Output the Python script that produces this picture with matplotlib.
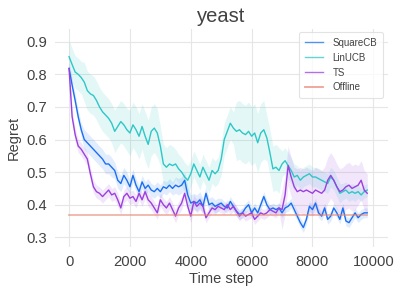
import matplotlib
matplotlib.use("Agg")
import matplotlib.pyplot as plt
import numpy as np

# time grid (every 100 steps)
T = list(range(0, 9900, 100))

SQUARECB = [0.818, 0.767, 0.72, 0.67, 0.63, 0.60, 0.59, 0.58, 0.57, 0.56,
            0.55, 0.54, 0.525, 0.525, 0.515, 0.505, 0.475, 0.465, 0.49, 0.475,
            0.455, 0.49, 0.46, 0.44, 0.47, 0.45, 0.46, 0.445, 0.44, 0.45,
            0.44, 0.455, 0.45, 0.46, 0.45, 0.46, 0.455, 0.46, 0.475, 0.43,
            0.405, 0.41, 0.405, 0.415, 0.395, 0.435, 0.40, 0.405, 0.395, 0.40,
            0.405, 0.395, 0.39, 0.41, 0.395, 0.38, 0.37, 0.375, 0.39, 0.40,
            0.375, 0.39, 0.375, 0.40, 0.425, 0.40, 0.385, 0.39, 0.385, 0.39,
            0.375, 0.39, 0.395, 0.405, 0.385, 0.365, 0.345, 0.33, 0.355, 0.395,
            0.385, 0.405, 0.375, 0.365, 0.39, 0.355, 0.365, 0.39, 0.375, 0.355,
            0.39, 0.35, 0.345, 0.36, 0.375, 0.36, 0.37, 0.375, 0.375]

LINUCB = [0.854, 0.83, 0.807, 0.80, 0.79, 0.776, 0.75, 0.74, 0.735, 0.72,
          0.70, 0.685, 0.675, 0.665, 0.65, 0.625, 0.64, 0.655, 0.645, 0.63,
          0.62, 0.645, 0.63, 0.61, 0.64, 0.61, 0.585, 0.625, 0.635, 0.62,
          0.58, 0.525, 0.515, 0.525, 0.52, 0.525, 0.51, 0.50, 0.485, 0.475,
          0.495, 0.525, 0.505, 0.485, 0.515, 0.495, 0.475, 0.505, 0.495, 0.505,
          0.54, 0.60, 0.625, 0.65, 0.635, 0.625, 0.63, 0.62, 0.615, 0.625,
          0.61, 0.62, 0.59, 0.62, 0.63, 0.605, 0.56, 0.51, 0.515, 0.505,
          0.525, 0.535, 0.52, 0.505, 0.485, 0.49, 0.475, 0.485, 0.49, 0.495,
          0.485, 0.485, 0.48, 0.475, 0.47, 0.465, 0.485, 0.475, 0.455, 0.435,
          0.44, 0.445, 0.435, 0.44, 0.435, 0.44, 0.43, 0.44, 0.445]

TS = [0.818, 0.67, 0.615, 0.58, 0.57, 0.555, 0.54, 0.495, 0.455, 0.44,
      0.435, 0.425, 0.435, 0.445, 0.43, 0.435, 0.415, 0.39, 0.425, 0.435,
      0.42, 0.425, 0.41, 0.435, 0.415, 0.44, 0.415, 0.405, 0.39, 0.375,
      0.415, 0.40, 0.39, 0.405, 0.385, 0.365, 0.39, 0.405, 0.435, 0.395,
      0.365, 0.41, 0.395, 0.405, 0.395, 0.36, 0.375, 0.39, 0.385, 0.395,
      0.39, 0.385, 0.40, 0.385, 0.395, 0.38, 0.365, 0.375, 0.365, 0.37,
      0.375, 0.355, 0.365, 0.375, 0.37, 0.375, 0.385, 0.38, 0.375, 0.39,
      0.385, 0.43, 0.52, 0.485, 0.455, 0.44, 0.445, 0.44, 0.445, 0.44,
      0.435, 0.445, 0.44, 0.435, 0.445, 0.475, 0.49, 0.475, 0.455, 0.44,
      0.445, 0.455, 0.46, 0.45, 0.455, 0.46, 0.475, 0.445, 0.435]

OFFLINE = 0.368

# band half-widths, one value per 500-step block
SQUARECB_HW = [0.02, 0.03, 0.03, 0.025, 0.02, 0.02, 0.02, 0.025, 0.025, 0.02,
               0.015, 0.015, 0.015, 0.015, 0.015, 0.015, 0.015, 0.015, 0.015, 0.015]
LINUCB_HW = [0.05, 0.06, 0.06, 0.065, 0.07, 0.075, 0.06, 0.045, 0.04, 0.04,
             0.05, 0.09, 0.09, 0.07, 0.04, 0.03, 0.03, 0.03, 0.025, 0.02]
TS_HW = [0.02, 0.02, 0.02, 0.02, 0.02, 0.02, 0.02, 0.02, 0.02, 0.015,
         0.015, 0.015, 0.015, 0.015, 0.06, 0.07, 0.07, 0.07, 0.07, 0.06]

BLUE, TEAL, PURPLE, SALMON = "#1a6ff2", "#2ec7c7", "#9b3fe0", "#e8836f"
INK = "#424242"

plt.rcParams["font.family"] = ["Liberation Sans", "DejaVu Sans"]

fig = plt.figure(figsize=(4.02, 2.9), dpi=100)
ax = fig.add_axes([0.137, 0.148, 0.828, 0.752])
ax.set_facecolor("white")

t = np.array(T)
block = t // 500
for name, vals, hw, col in [("SquareCB", SQUARECB, SQUARECB_HW, BLUE),
                            ("LinUCB", LINUCB, LINUCB_HW, TEAL),
                            ("TS", TS, TS_HW, PURPLE)]:
    v = np.array(vals)
    h = np.array(hw)[block]
    ax.fill_between(t, v - h, v + h, color=col, alpha=0.13, lw=0)
    ax.plot(t, v, color=col, lw=1.0, label=name)
ax.plot([T[0], T[-1]], [OFFLINE, OFFLINE], color=SALMON, lw=1.3, alpha=0.6,
        label="Offline")

ax.set_xlim(-460, 10480)
ax.set_ylim(0.27, 0.939)
ax.set_xticks([0, 2000, 4000, 6000, 8000, 10000])
ax.set_yticks([0.3, 0.4, 0.5, 0.6, 0.7, 0.8, 0.9])
ax.grid(True, color="#e6e6e6", lw=0.8)
ax.set_axisbelow(True)
for s in ax.spines.values():
    s.set_visible(False)
ax.tick_params(length=0, labelsize=10.6, colors=INK, pad=6)

ax.set_title("yeast", fontsize=14.5, color=INK, pad=5)
ax.set_xlabel("Time step", fontsize=10.5, color=INK, labelpad=2)
ax.set_ylabel("Regret", fontsize=10.5, color=INK, labelpad=4)

leg = ax.legend(loc="upper right", fontsize=7, frameon=True, handlelength=1.85,
                handletextpad=1.0, borderpad=0.6, labelspacing=0.5,
                borderaxespad=0, bbox_to_anchor=(0.985, 0.986))
leg.get_frame().set_edgecolor("#dddddd")
leg.get_frame().set_linewidth(0.8)
for txt in leg.get_texts():
    txt.set_color(INK)
for ln in leg.get_lines():
    ln.set_alpha(0.75)

fig.savefig("out.png", dpi=100, facecolor="white")
